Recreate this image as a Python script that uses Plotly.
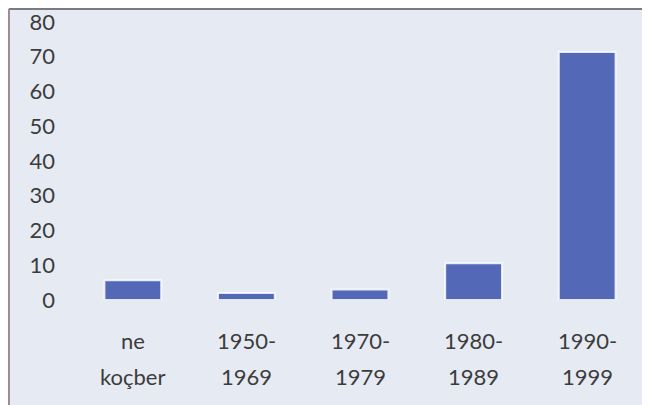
import plotly.graph_objects as go

categories = ["ne koçber", "1950-1969", "1970-1979", "1980-1989", "1990-1999"]
label_line1 = ["ne", "1950-", "1970-", "1980-", "1990-"]
label_line2 = ["koçber", "1969", "1979", "1989", "1999"]
values = [5.7, 2, 3, 10.6, 71.4]
y_ticks = [0, 10, 20, 30, 40, 50, 60, 70, 80]

FONT = "Lato"
TXT = "#3c3c3c"

fig = go.Figure()
fig.add_trace(go.Bar(
    x=categories, y=values,
    marker=dict(color="#5369b8", line=dict(color="rgba(250,252,255,0.85)", width=2)),
    width=0.5,
))

annotations = []
for c, l1, l2 in zip(categories, label_line1, label_line2):
    annotations.append(dict(x=c, xref="x", y=-0.144, yref="paper", text=l1, showarrow=False,
                            font=dict(family=FONT, size=22, color=TXT), yanchor="middle"))
    annotations.append(dict(x=c, xref="x", y=-0.274, yref="paper", text=l2, showarrow=False,
                            font=dict(family=FONT, size=22, color=TXT), yanchor="middle"))

fig.update_layout(
    width=650, height=405,
    margin=dict(l=68, r=14, t=14, b=113, autoexpand=False),
    paper_bgcolor="#e6ebf3",
    plot_bgcolor="rgba(0,0,0,0)",
    showlegend=False,
    annotations=annotations,
    xaxis=dict(showticklabels=False, showgrid=False, zeroline=False, showline=False,
               range=[-0.5, 4.5], automargin=False),
    yaxis=dict(range=[0, 80], tickvals=y_ticks, showgrid=False, zeroline=False, showline=False,
               ticks="", ticklabelstandoff=20, automargin=False, ticklabeloverflow="allow",
               tickfont=dict(family=FONT, size=22, color=TXT)),
    shapes=[
        dict(type="line", xref="paper", yref="paper", x0=-0.118, x1=1.05, y0=1.047, y1=1.047,
             line=dict(color="#7a7a80", width=2)),
        dict(type="line", xref="paper", yref="paper", x0=-0.118, x1=-0.118, y0=1.047, y1=-0.5,
             line=dict(color="#a08a8c", width=2)),
    ],
)

fig.write_html("out.html")
